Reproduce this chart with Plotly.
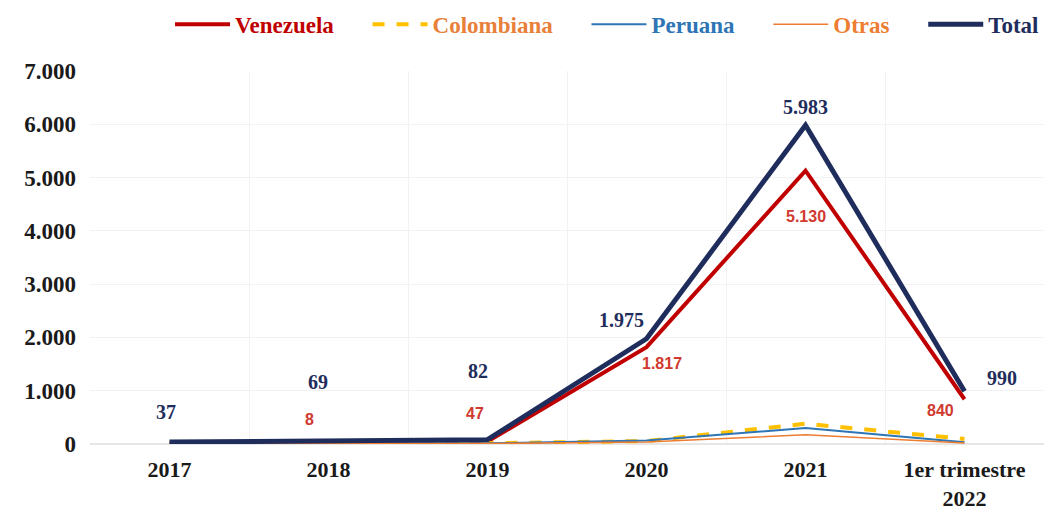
import plotly.graph_objects as go

# Categories and series values
periodos = ["2017", "2018", "2019", "2020", "2021", "1er trimestre<br>2022"]
venezuela = [2, 8, 47, 1817, 5130, 840]
colombiana = [15, 30, 15, 55, 380, 95]
peruana = [10, 20, 12, 65, 300, 35]
otras = [10, 11, 8, 38, 173, 20]
total = [37, 69, 82, 1975, 5983, 990]

# Which points carry a value label
etiqueta_venezuela = [False, True, True, True, True, True]

# Label offsets (px) relative to each point
off_total = [(-4, 30), (-11, 58), (-10, 69), (-25, 19), (0, 18), (37, 13)]
off_ven = [(0, 0), (-19, 24), (-13, 28), (15, -16), (0, -46), (-24, -11)]

C_VEN = "#C00000"
C_COL = "#FFC000"
C_COL_TXT = "#E8803A"
C_PER = "#2E75B6"
C_OTR = "#ED7D31"
C_TOT = "#1F2D5C"

SERIF = "Liberation Serif"
SANS = "Liberation Sans"
GAP = "\u00a0" * 5  # extra room between legend entries


def fmt(v):
    return f"{v:,}".replace(",", ".")


def name(txt, color, last=False):
    return f"<span style='color:{color}'><b>{txt}</b></span>" + ("" if last else GAP)


fig = go.Figure()
fig.add_trace(go.Scatter(x=periodos, y=venezuela, mode="lines", name=name("Venezuela", C_VEN),
                         line=dict(color=C_VEN, width=4)))
fig.add_trace(go.Scatter(x=periodos, y=colombiana, mode="lines", name=name("Colombiana", C_COL_TXT),
                         line=dict(color=C_COL, width=4, dash="dash")))
fig.add_trace(go.Scatter(x=periodos, y=peruana, mode="lines", name=name("Peruana", C_PER),
                         line=dict(color=C_PER, width=2)))
fig.add_trace(go.Scatter(x=periodos, y=otras, mode="lines", name=name("Otras", C_OTR),
                         line=dict(color=C_OTR, width=1.5)))
fig.add_trace(go.Scatter(x=periodos, y=total, mode="lines", name=name("Total", C_TOT, last=True),
                         line=dict(color=C_TOT, width=5)))

# Annotations on a category axis are positioned by category index
annotations = []
for i, (v, (dx, dy)) in enumerate(zip(total, off_total)):
    annotations.append(dict(x=i, y=v, xref="x", yref="y", text=f"<b>{fmt(v)}</b>",
                            showarrow=False, xshift=dx, yshift=dy,
                            font=dict(family=SERIF, size=20, color=C_TOT)))
for i, (v, show, (dx, dy)) in enumerate(zip(venezuela, etiqueta_venezuela, off_ven)):
    if not show:
        continue
    annotations.append(dict(x=i, y=v, xref="x", yref="y", text=f"<b>{fmt(v)}</b>",
                            showarrow=False, xshift=dx, yshift=dy,
                            font=dict(family=SANS, size=16, color="#D03A2F")))

fig.update_layout(
    width=1053, height=511,
    margin=dict(l=90, r=9, t=71, b=67, autoexpand=False),
    paper_bgcolor="white", plot_bgcolor="white",
    separators=",.",
    showlegend=True,
    legend=dict(orientation="h", x=1.0, xanchor="right", y=1.125, yanchor="middle",
                font=dict(family=SERIF, size=23), itemwidth=55, entrywidth=0,
                bgcolor="rgba(0,0,0,0)"),
    annotations=annotations,
)
fig.update_xaxes(type="category", range=[-0.5, len(periodos) - 0.5], tickson="boundaries",
                 showgrid=True, gridcolor="#F2F2F2", gridwidth=1, ticks="", showline=False,
                 zeroline=False, tickangle=0, ticklabelstandoff=10,
                 tickfont=dict(family=SERIF, size=22, color="#1a1a1a", weight="bold"))
fig.update_yaxes(range=[0, 7000], dtick=1000, tickformat=",d", showgrid=True,
                 gridcolor="#F2F2F2", gridwidth=1, zeroline=True, zerolinecolor="#E6E6E6",
                 ticks="", ticklabelstandoff=13, showline=False,
                 tickfont=dict(family=SERIF, size=23, color="#1a1a1a", weight="bold"))

fig.write_html("out.html")
